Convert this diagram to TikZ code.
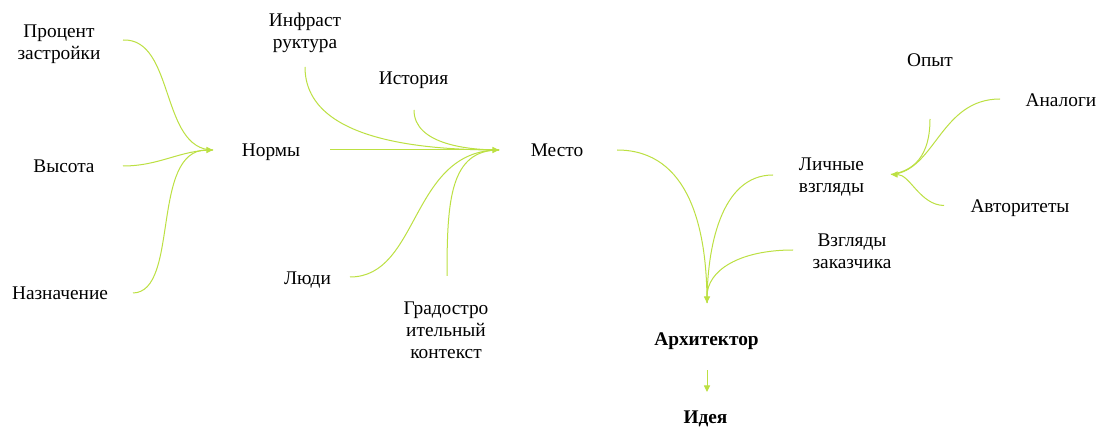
\documentclass[tikz,border=0pt]{standalone}
\usepackage{fontspec}
\setmainfont{Liberation Serif}
\usetikzlibrary{arrows.meta}
\definecolor{leaf}{RGB}{188,224,66}
% labels: baseline-anchored, multi-line ones aligned on their first line
\newcommand{\lines}[1]{\begin{tabular}[t]{@{}c@{}}#1\end{tabular}}
\tikzset{
  lbl/.style={font=\fontsize{14.5pt}{16.3pt}\selectfont, inner sep=0pt, anchor=base},
  bold/.style={lbl, font=\fontsize{14.5pt}{16.3pt}\selectfont\bfseries},
  link/.style={draw=leaf, line width=0.75pt, -{Triangle[length=5pt,width=4.6pt]}},
  plain/.style={draw=leaf, line width=0.75pt},
}
\begin{document}
\begin{tikzpicture}[x=0.75pt,y=-0.75pt]
\useasboundingbox[fill=white] (0,0) rectangle (1098,427);

% labels
\node[lbl] (proc) at (59,38) {\lines{Процент\\застройки}};
\node[lbl] (vys)  at (64,172.5) {Высота};
\node[lbl] (naz)  at (60,300) {Назначение};
\node[lbl] (norm) at (271,157) {Нормы};
\node[lbl] (infr) at (305,26.5) {\lines{Инфраст\\руктура}};
\node[lbl] (ist)  at (413.5,85) {История};
\node[lbl] (mest) at (557,157) {Место};
\node[lbl] (lyud) at (307.5,285) {Люди};
\node[lbl] (grad) at (446,315) {\lines{Градостро\\ительный\\контекст}};
\node[lbl] (opyt) at (930,67) {Опыт};
\node[lbl] (anal) at (1061,106.5) {Аналоги};
\node[lbl] (lich) at (831.5,170.5) {\lines{Личные\\взгляды}};
\node[lbl] (avt)  at (1020,213) {Авторитеты};
\node[lbl] (zak)  at (852,247) {\lines{Взгляды\\заказчика}};
\node[bold] (arch) at (706.5,345) {Архитектор};
\node[bold] (idea) at (705.5,423) {Идея};

% junction points where the arrows meet
\coordinate (jn) at (213,150);
\coordinate (jm) at (499,150);
\coordinate (ja) at (707,303);
\coordinate (jl) at (891,174.5);

% free ends of the connectors
\coordinate (s1) at (123,40);
\coordinate (s2) at (123,166);
\coordinate (s3) at (133,293);
\coordinate (s4) at (330,150);
\coordinate (s5) at (305,67);
\coordinate (s6) at (414,110);
\coordinate (s7) at (350,277);
\coordinate (s8) at (447,276);
\coordinate (s9) at (617,150);
\coordinate (s10) at (773,175);
\coordinate (s11) at (793,250);
\coordinate (s12) at (930,119);
\coordinate (s13) at (1000,99);
\coordinate (s14) at (944,205.5);
\coordinate (s15) at (707,370);
\coordinate (s16) at (707,392);

% into "Нормы"
\draw[plain] (s1) .. controls (175,38) and (160,150) .. (jn);
\draw[plain] (s2) .. controls (160,166) and (180,150) .. (jn);
\draw[link]  (s3) .. controls (180,292) and (150,150) .. (jn);

% into "Место"
\draw[plain] (s5) .. controls (305,140) and (420,150) .. (jm);
\draw[plain] (s6) .. controls (414,145) and (470,150) .. (jm);
\draw[plain] (s7) .. controls (420,277) and (410,150) .. (jm);
\draw[plain] (s8) .. controls (447,200) and (450,150) .. (jm);
\draw[link]  (s4) -- (jm);

% into "Архитектор"
\draw[plain] (s9) .. controls (690,150) and (707,230) .. (ja);
\draw[plain] (s10) .. controls (720,175) and (707,250) .. (ja);
\draw[link]  (s11) .. controls (740,250) and (707,270) .. (ja);

% into "Личные взгляды"
\draw[plain] (s12) .. controls (930,165) and (905,172) .. (jl);
\draw[plain] (s13) .. controls (940,99) and (935,172) .. (jl);
\draw[link]  (s14) .. controls (920,205) and (910,174.5) .. (jl);

% "Архитектор" to "Идея"
\draw[link] (s15) -- (s16);
\end{tikzpicture}
\end{document}
